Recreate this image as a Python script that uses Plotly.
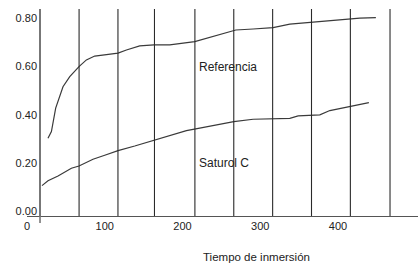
import plotly.graph_objects as go

# Data
ref_x = [27.0, 31.4, 36.9, 46.3, 55.0, 66.9, 76.4, 87.1, 102.2, 117.1, 127.9, 145.0,
         163.4, 183.6, 215.8, 241.6, 268.6, 290.9, 316.6, 338.1, 366.4, 402.4, 428.2, 448.8]
ref_y = [0.302, 0.330, 0.427, 0.516, 0.558, 0.599, 0.627, 0.643, 0.649, 0.655, 0.668, 0.685,
         0.689, 0.689, 0.703, 0.727, 0.751, 0.755, 0.761, 0.775, 0.783, 0.794, 0.800, 0.802]

sat_x = [19.3, 27.0, 39.9, 57.1, 66.9, 84.9, 100.0, 117.1, 138.6, 163.4, 190.1, 205.1,
         217.1, 250.2, 266.0, 290.9, 315.3, 338.1, 348.8, 366.0, 376.7, 389.6, 415.3, 428.2, 439.8]
sat_y = [0.106, 0.126, 0.146, 0.178, 0.187, 0.215, 0.232, 0.251, 0.270, 0.295, 0.319, 0.334,
         0.341, 0.361, 0.371, 0.381, 0.382, 0.385, 0.395, 0.398, 0.399, 0.417, 0.433, 0.440, 0.450]

vlines_x = [67, 117, 164, 216, 266, 316, 366, 416, 467]
x_ticks = [0, 100, 200, 300, 400, 500]
y_ticks = [0.0, 0.2, 0.4, 0.6, 0.8]
labels = ["Referencia", "Saturol C"]
label_pos = [(258.7, 0.599), (253.0, 0.199)]
x_title = "Tiempo de inmersión"

FONT = "Liberation Sans, Arial, sans-serif"
LINE = "#3a3a3a"

fig = go.Figure()
fig.add_trace(go.Scatter(x=ref_x, y=ref_y, mode="lines", line=dict(color=LINE, width=1.2),
                         name=labels[0], showlegend=False, hoverinfo="skip"))
fig.add_trace(go.Scatter(x=sat_x, y=sat_y, mode="lines", line=dict(color=LINE, width=1.2),
                         name=labels[1], showlegend=False, hoverinfo="skip"))

for vx in vlines_x:
    fig.add_shape(type="line", xref="x", yref="paper", x0=vx, x1=vx, y0=0, y1=1,
                  line=dict(color="#2a2a2a", width=1.1), layer="above")

# y axis line extension below the x axis
fig.add_shape(type="line", xref="paper", yref="paper", x0=0.0333, x1=0.0333, y0=-0.034, y1=0,
              line=dict(color="#777777", width=1.6))

for txt, (lx, ly) in zip(labels, label_pos):
    fig.add_annotation(x=lx, y=ly, xref="x", yref="y", text=txt, showarrow=False,
                       xanchor="center", yanchor="middle",
                       font=dict(family=FONT, size=12, color="#222222"))

fig.add_annotation(x=0.586, y=-0.198, xref="paper", yref="paper", text=x_title,
                   showarrow=False, xanchor="center", yanchor="middle",
                   font=dict(family=FONT, size=11.5, color="#222222"))

fig.update_layout(
    width=418, height=265,
    margin=dict(l=27, r=0, t=9, b=49),
    plot_bgcolor="white", paper_bgcolor="white",
    font=dict(family=FONT, size=11, color="#222222"),
    hovermode=False,
    xaxis=dict(range=[0, 503], tickvals=x_ticks, showgrid=False, zeroline=False,
               showline=True, linecolor="#555555", linewidth=1.4, ticks=""),
    yaxis=dict(range=[-0.02, 0.838], tickvals=y_ticks, tickformat=".2f", showgrid=False,
               zeroline=False, showline=True, linecolor="#777777", linewidth=1.6, ticks="",
               anchor="free", position=0.0333),
)

fig.write_html("out.html", config={"displayModeBar": False},
               post_script="document.body.style.margin='0';document.body.style.overflow='hidden';")
